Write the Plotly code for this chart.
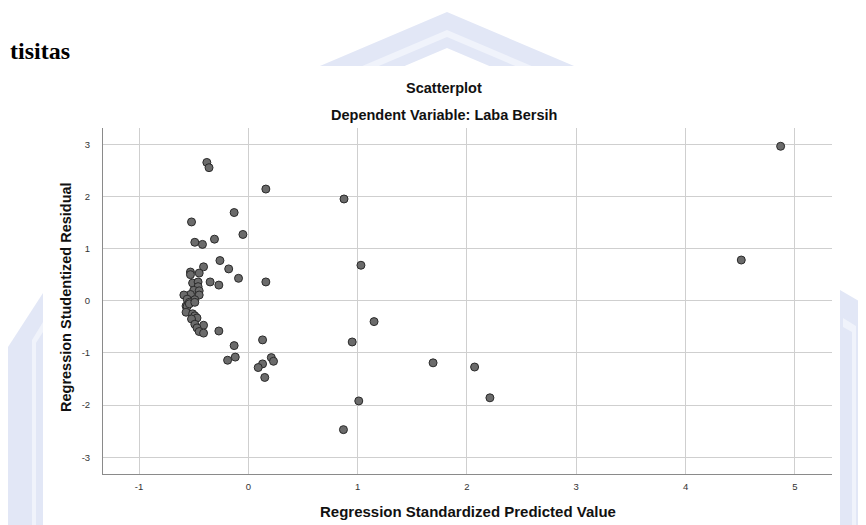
import plotly.graph_objects as go

# Data (Regression Standardized Predicted Value vs Studentized Residual)
pred_value = [
    -0.38, -0.36, 0.16, -0.13, -0.52, -0.05, -0.31, -0.49, -0.42,
    0.875, 1.03, 1.15, 0.95, 1.69, 2.07, 2.21, 1.01, 0.87,
    4.87, 4.51,
    -0.26, -0.41, -0.53, -0.53, -0.45, -0.18, -0.09, 0.16, -0.35, -0.27,
    -0.51, -0.46, -0.46, -0.50, -0.45, -0.45, -0.53, -0.59, -0.49, -0.56,
    -0.54, -0.57,
    -0.56, -0.57, -0.54, -0.49, -0.51, -0.49, -0.47, -0.52, -0.49, -0.41,
    -0.47, -0.45, -0.41, -0.27, -0.13, 0.13,
    -0.12, -0.19, 0.21, 0.23, 0.13, 0.09, 0.15,
]
stud_residual = [
    2.65, 2.55, 2.14, 1.69, 1.51, 1.27, 1.18, 1.12, 1.08,
    1.95, 0.68, -0.40, -0.79, -1.19, -1.27, -1.86, -1.92, -2.47,
    2.96, 0.78,
    0.77, 0.65, 0.55, 0.50, 0.53, 0.61, 0.43, 0.36, 0.36, 0.30,
    0.34, 0.36, 0.27, 0.20, 0.19, 0.11, 0.12, 0.11, 0.02, 0.03,
    -0.03, -0.10,
    -0.11, -0.22, -0.06, -0.03, -0.25, -0.29, -0.33, -0.35, -0.45, -0.47,
    -0.52, -0.59, -0.62, -0.58, -0.86, -0.75,
    -1.08, -1.14, -1.09, -1.16, -1.21, -1.28, -1.47,
]
x_ticks = [-1, 0, 1, 2, 3, 4, 5]
y_ticks = [-3, -2, -1, 0, 1, 2, 3]

# page offset (browser body margin)
OFF = 8
W, H = 866 - OFF, 525 - OFF
L, R, T, B = 103 - OFF, 34, 128 - OFF, 51
PW, PH = W - L - R, H - T - B


def px(x):
    return (x - OFF - L) / PW


def py(y):
    return (H - B - (y - OFF)) / PH


def path(points):
    return "M " + " L ".join(f"{px(a):.5f},{py(b):.5f}" for a, b in points) + " Z"


WM = "#e2e7f6"
WM_LIGHT = "#f0f3fb"

shapes = []
s = 0.425


def chevron(yo, yi, color):
    ho, hi = (66 - yo) / s, (66 - yi) / s
    pts = [(447 - ho, 66), (447, yo), (447 + ho, 66), (447 + hi, 66), (447, yi), (447 - hi, 66)]
    return dict(type="path", xref="paper", yref="paper", path=path(pts),
                fillcolor=color, line=dict(width=0), layer="below")


shapes.append(chevron(12, 48, WM))
shapes.append(chevron(30, 37, WM_LIGHT))
# left watermark
shapes.append(dict(type="path", xref="paper", yref="paper",
                   path=path([(43, 293), (8, 347), (8, 525), (43, 525)]),
                   fillcolor=WM, line=dict(width=0), layer="below"))
shapes.append(dict(type="path", xref="paper", yref="paper",
                   path=path([(43, 322), (32, 340), (32, 525), (36, 525), (36, 343), (43, 332)]),
                   fillcolor=WM_LIGHT, line=dict(width=0), layer="below"))
# right watermark
shapes.append(dict(type="path", xref="paper", yref="paper",
                   path=path([(840, 290), (866, 305), (866, 525), (840, 525)]),
                   fillcolor=WM, line=dict(width=0), layer="below"))
shapes.append(dict(type="path", xref="paper", yref="paper",
                   path=path([(843, 318), (856, 326), (856, 525), (852, 525), (852, 332), (843, 327)]),
                   fillcolor=WM_LIGHT, line=dict(width=0), layer="below"))
# white chart image area
shapes.append(dict(type="rect", xref="paper", yref="paper",
                   x0=px(43), x1=px(840), y0=py(525), y1=py(66),
                   fillcolor="white", line=dict(width=0), layer="below"))

fig = go.Figure()
fig.add_trace(go.Scatter(
    x=pred_value, y=stud_residual, mode="markers",
    marker=dict(size=8, color="#6b6b6b", line=dict(color="#2a2a2a", width=1)),
    showlegend=False, hoverinfo="x+y",
))

SANS = "Liberation Sans, Arial"
annotations = [
    dict(text="<b>Scatterplot</b>", x=px(444), y=py(88), xref="paper", yref="paper",
         showarrow=False, xanchor="center", yanchor="middle",
         font=dict(family=SANS, size=14.5, color="#111")),
    dict(text="<b>Dependent Variable: Laba Bersih</b>", x=px(444), y=py(115), xref="paper", yref="paper",
         showarrow=False, xanchor="center", yanchor="middle",
         font=dict(family=SANS, size=14.5, color="#111")),
    dict(text="<b>tisitas</b>", x=px(72), y=py(51), xref="paper", yref="paper",
         showarrow=False, xanchor="right", yanchor="middle",
         font=dict(family="Liberation Serif, Times New Roman", size=24, color="#000")),
    dict(text="<b>Regression Standardized Predicted Value</b>", x=px(468), y=py(512),
         xref="paper", yref="paper", showarrow=False, xanchor="center", yanchor="middle",
         font=dict(family=SANS, size=15, color="#111")),
    dict(text="<b>Regression Studentized Residual</b>", x=px(66), y=py(297),
         xref="paper", yref="paper", showarrow=False, xanchor="center", yanchor="middle",
         textangle=-90,
         font=dict(family=SANS, size=14.5, color="#111")),
]

fig.update_layout(
    width=W, height=H,
    margin=dict(l=L, r=R, t=T, b=B, pad=0),
    paper_bgcolor="white", plot_bgcolor="rgba(0,0,0,0)",
    shapes=shapes, annotations=annotations,
    font=dict(family=SANS, color="#333"),
)
fig.update_xaxes(
    range=[-1.33, 5.34], tickmode="array", tickvals=x_ticks,
    ticktext=[str(t) for t in x_ticks], showgrid=True, gridcolor="#cfcfcf", gridwidth=1,
    zeroline=False, showline=True, linecolor="#8a8a8a", linewidth=1,
    ticks="", ticklabelstandoff=4, tickfont=dict(size=9.5, color="#333"),
)
fig.update_yaxes(
    range=[-3.32, 3.31], tickmode="array", tickvals=y_ticks,
    ticktext=[str(t) for t in y_ticks], showgrid=True, gridcolor="#cfcfcf", gridwidth=1,
    zeroline=False, showline=True, linecolor="#8a8a8a", linewidth=1,
    ticks="", ticklabelstandoff=10, tickfont=dict(size=9.5, color="#333"),
)

fig.write_html("out.html")
